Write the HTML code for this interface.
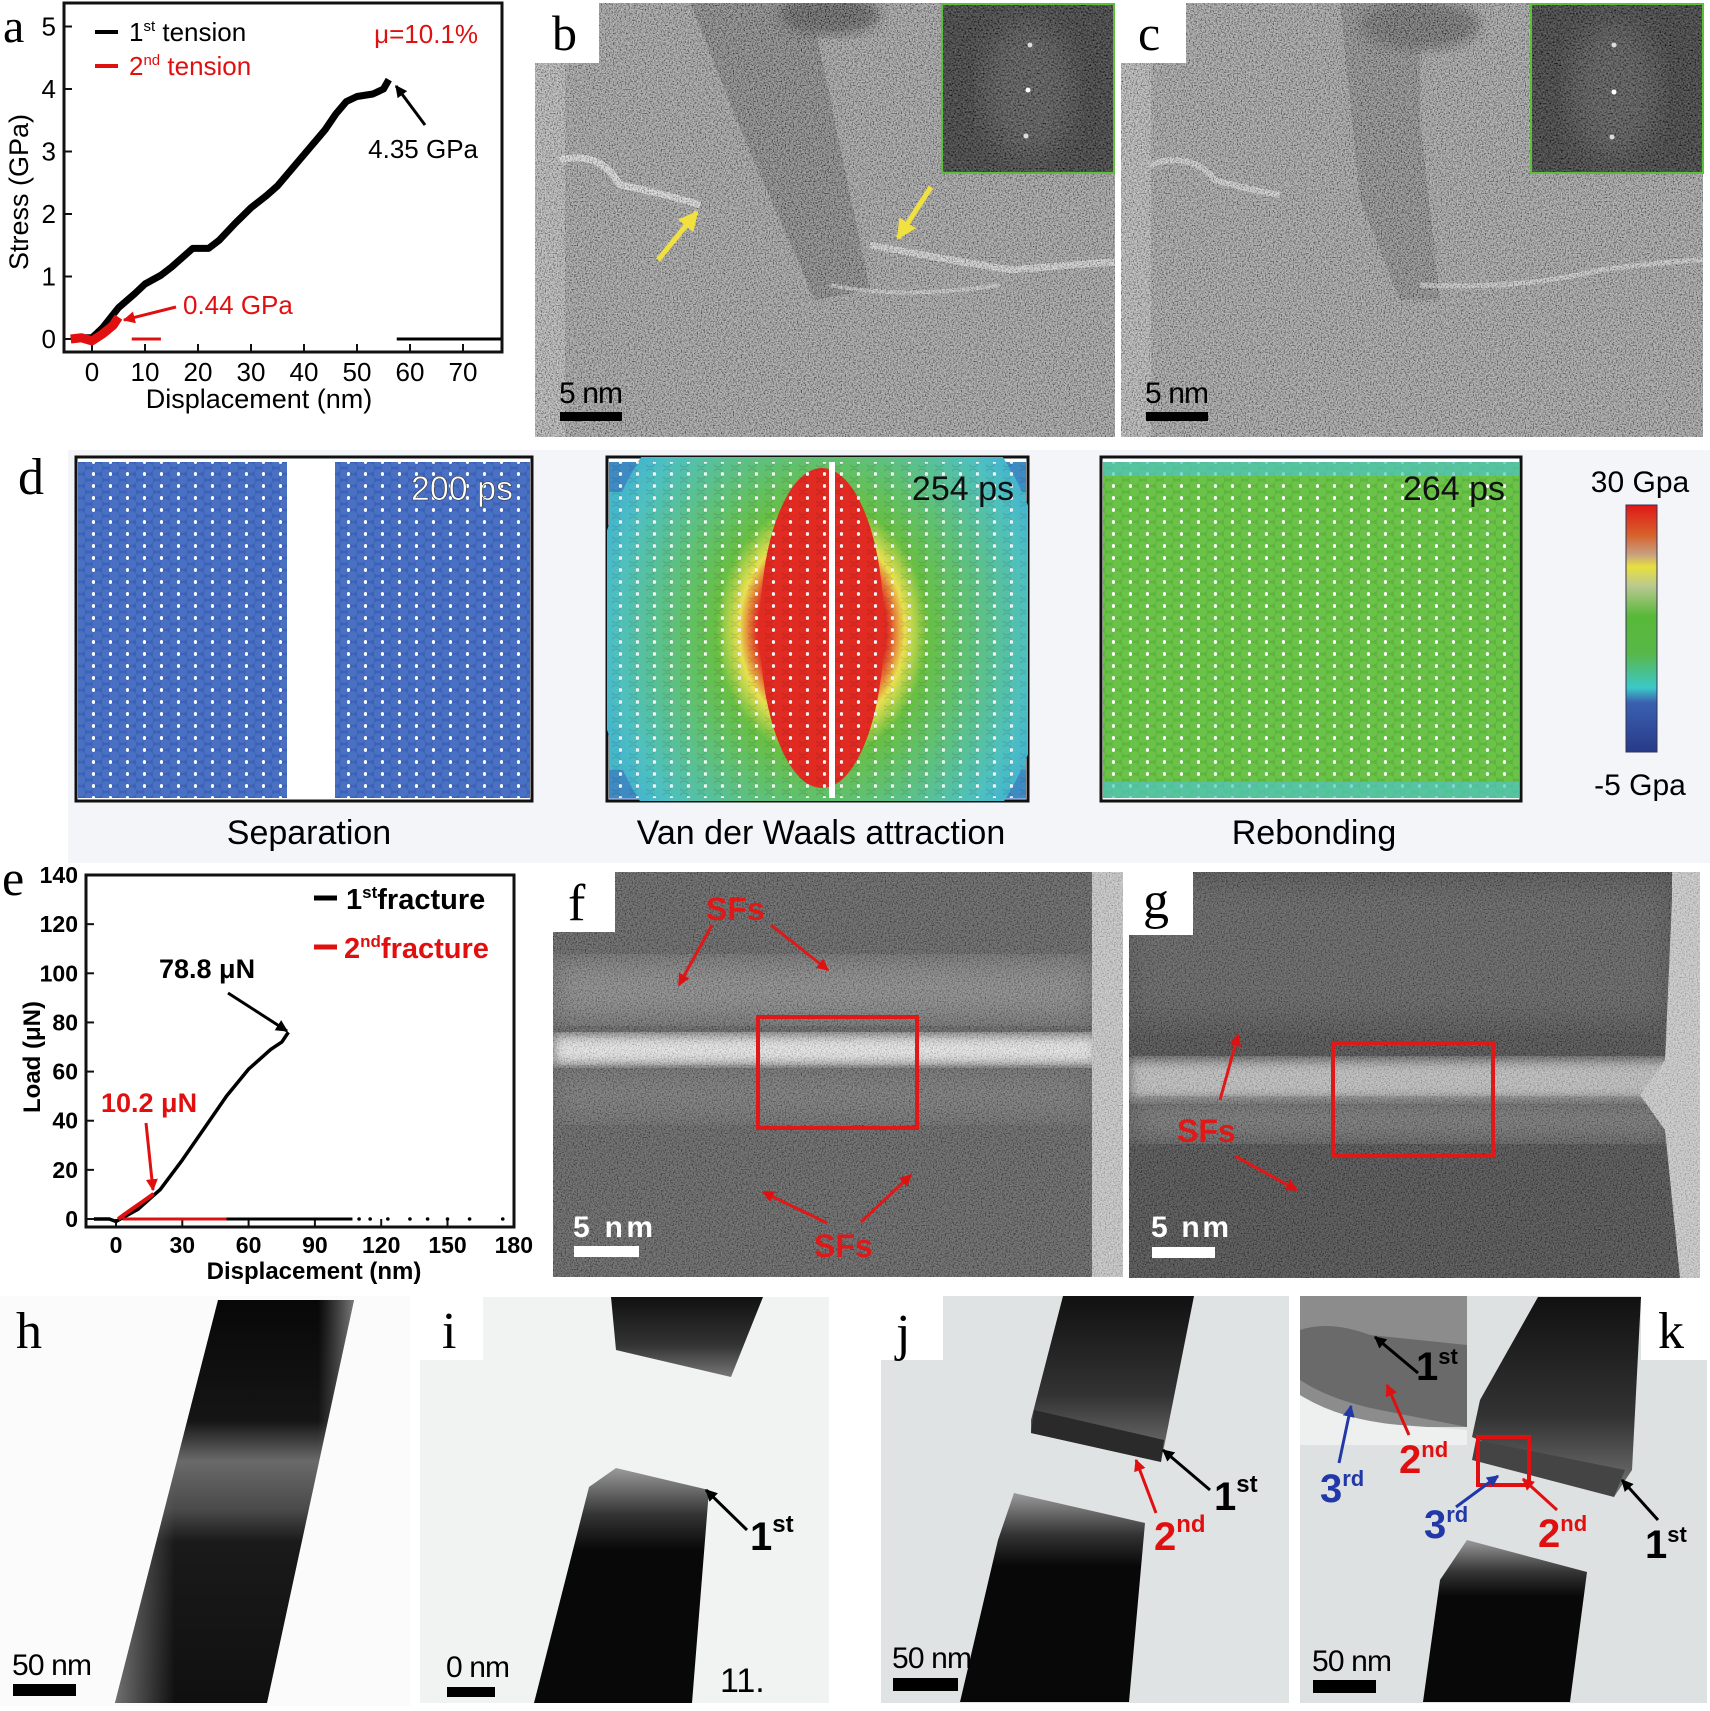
<!DOCTYPE html>
<html><head><meta charset="utf-8"><style>
html,body{margin:0;padding:0;background:#fff}
svg{display:block}
text{font-family:"Liberation Sans",sans-serif}
.ser{font-family:"Liberation Serif",serif}
</style></head><body>
<svg id="fig" width="1710" height="1711" viewBox="0 0 1710 1711" xmlns="http://www.w3.org/2000/svg">
<defs>
 <filter id="noise" x="0" y="0" width="100%" height="100%">
  <feTurbulence type="fractalNoise" baseFrequency="0.75" numOctaves="2" seed="3"/>
  <feColorMatrix type="matrix" values="2.4 0 0 0 -0.7  2.4 0 0 0 -0.7  2.4 0 0 0 -0.7  0 0 0 0 0.45"/>
 </filter>
 <filter id="noiseDark" x="0" y="0" width="100%" height="100%">
  <feTurbulence type="fractalNoise" baseFrequency="0.6" numOctaves="2" seed="7"/>
  <feColorMatrix type="matrix" values="1.2 0 0 0 -0.3  1.2 0 0 0 -0.3  1.2 0 0 0 -0.3  0 0 0 0 0.45"/>
 </filter>
 <filter id="blur6"><feGaussianBlur stdDeviation="6"/></filter>
 <filter id="blur12"><feGaussianBlur stdDeviation="14"/></filter>
 <pattern id="atomsBlue" width="17" height="12" patternUnits="userSpaceOnUse">
  <rect width="17" height="12" fill="#3c62b8"/>
  <circle cx="4" cy="6" r="5" fill="#4a70c4"/><circle cx="12.5" cy="0" r="5" fill="#4a70c4"/><circle cx="12.5" cy="12" r="5" fill="#4a70c4"/>
  <ellipse cx="8.5" cy="6" rx="1.6" ry="2" fill="#fff"/>
 </pattern>
 <pattern id="atomsGreen" width="17" height="12" patternUnits="userSpaceOnUse">
  <rect width="17" height="12" fill="#5cb53c"/>
  <circle cx="4" cy="6" r="5" fill="#6ac248"/><circle cx="12.5" cy="0" r="5" fill="#6ac248"/><circle cx="12.5" cy="12" r="5" fill="#6ac248"/>
  <ellipse cx="8.5" cy="6" rx="1.6" ry="2" fill="#fff"/>
 </pattern>
 <pattern id="dotsW" width="17" height="12" patternUnits="userSpaceOnUse">
  <ellipse cx="8.5" cy="6" rx="1.6" ry="2" fill="#fff"/>
  <circle cx="4" cy="6" r="5" fill="none" stroke="rgba(0,0,0,0.12)" stroke-width="1"/>
 </pattern>
 <radialGradient id="vdw" cx="0.5" cy="0.5" r="0.5">
  <stop offset="0" stop-color="#e02a22"/><stop offset="0.28" stop-color="#e02a22"/>
  <stop offset="0.36" stop-color="#e8e050"/><stop offset="0.46" stop-color="#68bf44"/>
  <stop offset="0.7" stop-color="#5cc088"/><stop offset="0.9" stop-color="#4ec0c0"/><stop offset="1" stop-color="#45b5cc"/>
 </radialGradient>
 <linearGradient id="cbar" x1="0" y1="0" x2="0" y2="1">
  <stop offset="0" stop-color="#e01818"/><stop offset="0.12" stop-color="#d8602a"/>
  <stop offset="0.2" stop-color="#c8a080"/><stop offset="0.25" stop-color="#e8e040"/>
  <stop offset="0.33" stop-color="#b8c890"/><stop offset="0.45" stop-color="#58b838"/>
  <stop offset="0.6" stop-color="#58b848"/><stop offset="0.74" stop-color="#3cc8c8"/>
  <stop offset="0.8" stop-color="#3a60b0"/><stop offset="1" stop-color="#283a88"/>
 </linearGradient>
 <linearGradient id="rodH" x1="0" y1="0" x2="0" y2="1">
  <stop offset="0" stop-color="#080808"/><stop offset="0.3" stop-color="#151515"/>
  <stop offset="0.4" stop-color="#6a6a6a"/><stop offset="0.52" stop-color="#4a4a4a"/>
  <stop offset="0.6" stop-color="#1a1a1a"/><stop offset="1" stop-color="#101010"/>
 </linearGradient>
 <linearGradient id="rodEdge" x1="0" y1="0" x2="1" y2="0">
  <stop offset="0" stop-color="#888" stop-opacity="0.8"/><stop offset="0.25" stop-color="#888" stop-opacity="0"/>
  <stop offset="0.85" stop-color="#888" stop-opacity="0"/><stop offset="1" stop-color="#aaa" stop-opacity="0.7"/>
 </linearGradient>
 <linearGradient id="topPiece" x1="0" y1="0" x2="0" y2="1">
  <stop offset="0" stop-color="#111"/><stop offset="0.6" stop-color="#333"/><stop offset="1" stop-color="#777"/>
 </linearGradient>
 <linearGradient id="botPiece" x1="0" y1="0" x2="0" y2="1">
  <stop offset="0" stop-color="#9a9a9a"/><stop offset="0.2" stop-color="#333"/><stop offset="0.35" stop-color="#080808"/><stop offset="1" stop-color="#080808"/>
 </linearGradient>
 <marker id="ahK" viewBox="0 0 10 10" refX="9" refY="5" markerWidth="4" markerHeight="4" orient="auto"><path d="M0,0 L10,5 L0,10 z" fill="#000"/></marker>
 <marker id="ahR" viewBox="0 0 10 10" refX="9" refY="5" markerWidth="4" markerHeight="4" orient="auto"><path d="M0,0 L10,5 L0,10 z" fill="#e01010"/></marker>
 <marker id="ahB" viewBox="0 0 10 10" refX="9" refY="5" markerWidth="4" markerHeight="4" orient="auto"><path d="M0,0 L10,5 L0,10 z" fill="#2238a8"/></marker>
 <marker id="ahY" viewBox="0 0 10 10" refX="9" refY="5" markerWidth="4" markerHeight="4" orient="auto"><path d="M0,0 L10,5 L0,10 z" fill="#f0e040"/></marker>
 <clipPath id="clipB"><rect x="535" y="3" width="580" height="434"/></clipPath>
 <clipPath id="clipC"><rect x="1121" y="3" width="582" height="434"/></clipPath>
 <clipPath id="clipF"><rect x="553" y="872" width="570" height="405"/></clipPath>
 <clipPath id="clipG"><rect x="1129" y="872" width="571" height="406"/></clipPath>
 <clipPath id="clipD2"><rect x="607" y="457" width="421" height="344"/></clipPath>
</defs>

<g id="panel-a"></g>

<!-- Panel b -->
<g clip-path="url(#clipB)">
 <rect x="535" y="3" width="580" height="434" fill="#8a8a8a"/>
 <rect x="535" y="3" width="30" height="434" fill="#a8a8a8"/>
 <polygon points="690,3 810,3 870,290 815,300 745,140" fill="#555" opacity="0.75"/>
 <ellipse cx="830" cy="15" rx="50" ry="20" fill="#333" filter="url(#blur6)"/>
 <path d="M560,160 Q600,150 620,185 Q670,195 700,205" stroke="#e8e8e8" stroke-width="7" fill="none" opacity="0.8"/>
 <path d="M870,245 Q950,260 1010,270 Q1070,265 1115,262" stroke="#e6e6e6" stroke-width="7" fill="none" opacity="0.7"/>
 <path d="M830,285 Q900,300 1000,285" stroke="#dcdcdc" stroke-width="4" fill="none" opacity="0.6"/>
 <rect x="535" y="3" width="580" height="434" filter="url(#noise)"/>
 <line x1="658" y1="260" x2="697" y2="212" stroke="#f0e040" stroke-width="5" marker-end="url(#ahY)"/>
 <line x1="931" y1="187" x2="898" y2="238" stroke="#f0e040" stroke-width="5" marker-end="url(#ahY)"/>
</g>
<rect x="535" y="0" width="64" height="63" fill="#fff"/>
<text class="ser" x="552" y="50" font-size="50">b</text>
<g>
 <rect x="942" y="4" width="172" height="169" fill="#141414" stroke="#5bbf3a" stroke-width="2"/>
 <ellipse cx="1028" cy="90" rx="45" ry="70" fill="#555" opacity="0.55" filter="url(#blur12)"/>
 <rect x="943" y="5" width="170" height="167" filter="url(#noiseDark)"/>
 <circle cx="1030" cy="45" r="2.5" fill="#ddd"/><circle cx="1028" cy="90" r="2.5" fill="#fff"/><circle cx="1026" cy="136" r="2.5" fill="#ddd"/>
</g>
<rect x="560" y="412" width="62" height="9" fill="#000"/>
<text x="559" y="403" font-size="30" textLength="64">5 nm</text>

<!-- Panel c -->
<g clip-path="url(#clipC)">
 <rect x="1121" y="3" width="582" height="434" fill="#8c8c8c"/>
 <rect x="1121" y="3" width="30" height="434" fill="#a8a8a8"/>
 <polygon points="1340,3 1420,3 1420,120 1440,300 1400,300 1360,200" fill="#5e5e5e" opacity="0.7"/>
 <ellipse cx="1420" cy="25" rx="60" ry="25" fill="#444" filter="url(#blur6)"/>
 <path d="M1150,165 Q1190,150 1215,180 Q1250,190 1280,195" stroke="#e0e0e0" stroke-width="6" fill="none" opacity="0.7"/>
 <path d="M1420,285 Q1520,290 1600,270 Q1660,262 1703,260" stroke="#e0e0e0" stroke-width="5" fill="none" opacity="0.6"/>
 <rect x="1121" y="3" width="582" height="434" filter="url(#noise)"/>
</g>
<rect x="1121" y="0" width="65" height="63" fill="#fff"/>
<text class="ser" x="1138" y="50" font-size="50">c</text>
<g>
 <rect x="1531" y="4" width="172" height="169" fill="#141414" stroke="#5bbf3a" stroke-width="2"/>
 <ellipse cx="1614" cy="90" rx="45" ry="70" fill="#555" opacity="0.55" filter="url(#blur12)"/>
 <rect x="1532" y="5" width="170" height="167" filter="url(#noiseDark)"/>
 <circle cx="1614" cy="45" r="2.5" fill="#ddd"/><circle cx="1614" cy="92" r="2.5" fill="#fff"/><circle cx="1612" cy="137" r="2.5" fill="#ddd"/>
</g>
<rect x="1146" y="412" width="62" height="9" fill="#000"/>
<text x="1145" y="403" font-size="30" textLength="64">5 nm</text>

<!-- Panel d -->
<rect x="68" y="450" width="1642" height="413" fill="#f4f5f8"/>
<text class="ser" x="18" y="494" font-size="52">d</text>
<g>
 <rect x="76" y="457" width="456" height="344" fill="#fff" stroke="#111" stroke-width="3"/>
 <rect x="78" y="462" width="209" height="336" fill="url(#atomsBlue)"/>
 <rect x="335" y="462" width="195" height="336" fill="url(#atomsBlue)"/>
 <text x="513" y="500" font-size="34" text-anchor="end" fill="#fff" stroke="#333" stroke-width="0.6">200 ps</text>
</g>
<g>
 <rect x="607" y="457" width="421" height="344" fill="#fff" stroke="#111" stroke-width="3"/>
 <g clip-path="url(#clipD2)">
  <rect x="609" y="462" width="417" height="336" fill="#45b8c8"/>
  <rect x="609" y="462" width="417" height="30" fill="#3a6ac0" opacity="0.6"/>
  <rect x="609" y="770" width="417" height="30" fill="#3a6ac0" opacity="0.6"/>
  <ellipse cx="822" cy="630" rx="230" ry="280" fill="url(#vdw)"/>
  <ellipse cx="822" cy="628" rx="62" ry="160" fill="#e02a22"/>
  <rect x="609" y="462" width="417" height="336" fill="url(#dotsW)"/>
  <rect x="829" y="462" width="6" height="336" fill="#fff"/>
 </g>
 <text x="1014" y="500" font-size="34" text-anchor="end" fill="#111">254 ps</text>
</g>
<g>
 <rect x="1101" y="457" width="420" height="344" fill="#fff" stroke="#111" stroke-width="3"/>
 <rect x="1103" y="462" width="416" height="336" fill="url(#atomsGreen)"/>
 <rect x="1103" y="462" width="416" height="14" fill="#4ec4c4" opacity="0.7"/>
 <rect x="1103" y="782" width="416" height="16" fill="#4ec4c4" opacity="0.7"/>
 <text x="1505" y="500" font-size="34" text-anchor="end" fill="#111">264 ps</text>
</g>
<rect x="1626" y="505" width="31" height="247" fill="url(#cbar)" stroke="#335" stroke-width="1"/>
<text x="1640" y="492" font-size="30" text-anchor="middle">30 Gpa</text>
<text x="1640" y="795" font-size="30" text-anchor="middle">-5 Gpa</text>
<text x="309" y="844" font-size="34" text-anchor="middle">Separation</text>
<text x="821" y="844" font-size="34" text-anchor="middle">Van der Waals attraction</text>
<text x="1314" y="844" font-size="34" text-anchor="middle">Rebonding</text>

<g id="panel-e"></g>

<!-- Panel f -->
<g clip-path="url(#clipF)">
 <rect x="553" y="872" width="570" height="405" fill="#4e4e4e"/>
 <rect x="553" y="960" width="540" height="60" fill="#7a7a7a" filter="url(#blur12)"/>
 <rect x="553" y="1035" width="545" height="30" fill="#e8e8e8" filter="url(#blur6)"/>
 <rect x="553" y="1070" width="540" height="50" fill="#666" filter="url(#blur12)"/>
 <rect x="1092" y="872" width="31" height="405" fill="#c4c4c4"/>
 <rect x="553" y="872" width="570" height="405" filter="url(#noise)" opacity="0.6"/>
</g>
<rect x="553" y="870" width="62" height="62" fill="#fff"/>
<text class="ser" x="568" y="920" font-size="52">f</text>
<rect x="758" y="1017" width="159" height="111" fill="none" stroke="#e01818" stroke-width="4"/>
<g font-weight="bold" fill="#e01818">
 <text x="706" y="920" font-size="32">SFs</text>
 <line x1="712" y1="925" x2="679" y2="985" stroke="#e01818" stroke-width="3" marker-end="url(#ahR)"/>
 <line x1="771" y1="925" x2="828" y2="970" stroke="#e01818" stroke-width="3" marker-end="url(#ahR)"/>
 <text x="814" y="1257" font-size="32">SFs</text>
 <line x1="827" y1="1223" x2="763" y2="1192" stroke="#e01818" stroke-width="3" marker-end="url(#ahR)"/>
 <line x1="861" y1="1222" x2="911" y2="1175" stroke="#e01818" stroke-width="3" marker-end="url(#ahR)"/>
</g>
<rect x="574" y="1246" width="65" height="11" fill="#fff"/>
<text x="573" y="1237" font-size="30" font-weight="bold" fill="#fff" textLength="80">5 nm</text>

<!-- Panel g -->
<g clip-path="url(#clipG)">
 <rect x="1129" y="872" width="571" height="406" fill="#3a3a3a"/>
 <rect x="1129" y="880" width="540" height="140" fill="#505050" filter="url(#blur12)"/>
 <rect x="1129" y="1060" width="545" height="40" fill="#b8b8b8" filter="url(#blur6)"/>
 <rect x="1129" y="1100" width="545" height="40" fill="#6a6a6a" filter="url(#blur12)"/>
 <path d="M1672,872 L1700,872 L1700,1278 L1680,1278 L1665,1130 L1640,1095 L1665,1060 L1672,900 z" fill="#c8c8c8"/>
 <rect x="1129" y="872" width="571" height="406" filter="url(#noise)" opacity="0.55"/>
</g>
<rect x="1129" y="870" width="64" height="65" fill="#fff"/>
<text class="ser" x="1143" y="918" font-size="52">g</text>
<rect x="1333" y="1043" width="160" height="113" fill="none" stroke="#e01818" stroke-width="4"/>
<g font-weight="bold" fill="#e01818">
 <text x="1177" y="1142" font-size="32">SFs</text>
 <line x1="1220" y1="1100" x2="1238" y2="1035" stroke="#e01818" stroke-width="3" marker-end="url(#ahR)"/>
 <line x1="1235" y1="1156" x2="1297" y2="1190" stroke="#e01818" stroke-width="3" marker-end="url(#ahR)"/>
</g>
<rect x="1152" y="1247" width="63" height="11" fill="#fff"/>
<text x="1151" y="1237" font-size="30" font-weight="bold" fill="#fff" textLength="78">5 nm</text>

<!-- Panel h -->
<g>
 <rect x="0" y="1296" width="410" height="410" fill="#fbfbfb"/>
 <polygon points="218,1300 354,1300 267,1703 115,1703" fill="url(#rodH)"/>
 <polygon points="218,1300 354,1300 267,1703 115,1703" fill="url(#rodEdge)"/>
 <text class="ser" x="16" y="1348" font-size="52">h</text>
 <rect x="13" y="1684" width="63" height="12" fill="#000"/>
 <text x="12" y="1675" font-size="30" textLength="80">50 nm</text>
</g>

<!-- Panel i -->
<g>
 <rect x="420" y="1297" width="409" height="406" fill="#f1f3f3"/>
 <rect x="420" y="1297" width="63" height="63" fill="#fff"/>
 <polygon points="611,1297 763,1297 731,1377 616,1350" fill="url(#topPiece)"/>
 <polygon points="616,1468 709,1490 692,1703 534,1703 589,1487" fill="url(#botPiece)"/>
 <text class="ser" x="442" y="1348" font-size="52">i</text>
 <line x1="747" y1="1530" x2="706" y2="1490" stroke="#000" stroke-width="3" marker-end="url(#ahK)"/>
 <text x="750" y="1550" font-size="40" font-weight="bold">1<tspan font-size="24" dy="-18">st</tspan></text>
 <rect x="447" y="1687" width="48" height="10" fill="#000"/>
 <text x="446" y="1677" font-size="30" textLength="64">0 nm</text>
 <text x="720" y="1692" font-size="34">11.</text>
</g>

<!-- Panel j -->
<g>
 <rect x="881" y="1296" width="408" height="407" fill="#dfe3e3"/>
 <rect x="881" y="1296" width="62" height="64" fill="#fff"/>
 <polygon points="1063,1296 1194,1296 1161,1462 1031,1433 1031,1420" fill="url(#topPiece)"/>
 <polygon points="1034,1410 1164,1440 1161,1462 1031,1433" fill="#2a2a2a"/>
 <polygon points="1014,1493 1145,1523 1129,1702 960,1702 998,1540" fill="url(#botPiece)"/>
 <text class="ser" x="896" y="1350" font-size="52">j</text>
 <line x1="1210" y1="1490" x2="1163" y2="1450" stroke="#000" stroke-width="3" marker-end="url(#ahK)"/>
 <text x="1214" y="1510" font-size="40" font-weight="bold">1<tspan font-size="24" dy="-18">st</tspan></text>
 <line x1="1156" y1="1513" x2="1136" y2="1460" stroke="#e01010" stroke-width="3" marker-end="url(#ahR)"/>
 <text x="1154" y="1550" font-size="40" font-weight="bold" fill="#e01010">2<tspan font-size="24" dy="-18">nd</tspan></text>
 <rect x="893" y="1678" width="65" height="13" fill="#000"/>
 <text x="892" y="1668" font-size="30" textLength="80">50 nm</text>
</g>

<!-- Panel k -->
<g>
 <rect x="1300" y="1296" width="407" height="407" fill="#dde1e1"/>
 <polygon points="1538,1297 1641,1297 1632,1470 1614,1497 1472,1437 1480,1400" fill="url(#topPiece)"/>
 <polygon points="1476,1440 1625,1470 1614,1497 1472,1460" fill="#444"/>
 <polygon points="1467,1540 1587,1572 1570,1702 1423,1702 1440,1580" fill="url(#botPiece)"/>
 <rect x="1641" y="1296" width="66" height="64" fill="#fff"/>
 <text class="ser" x="1658" y="1348" font-size="52">k</text>
 <g>
  <rect x="1300" y="1296" width="167" height="131" fill="#8c8c8c"/>
  <path d="M1300,1330 Q1330,1320 1370,1335 L1467,1345 L1467,1427 L1380,1410 Q1330,1400 1300,1380 z" fill="#6a6a6a"/>
  <path d="M1300,1395 Q1340,1420 1400,1425 L1467,1430 L1467,1445 L1300,1445 z" fill="#eef0f0"/>
 </g>
 <rect x="1478" y="1437" width="51" height="48" fill="none" stroke="#e01010" stroke-width="4"/>
 <line x1="1418" y1="1373" x2="1375" y2="1337" stroke="#000" stroke-width="3" marker-end="url(#ahK)"/>
 <text x="1416" y="1380" font-size="40" font-weight="bold">1<tspan font-size="22" dy="-16">st</tspan></text>
 <line x1="1409" y1="1435" x2="1387" y2="1385" stroke="#e01010" stroke-width="3" marker-end="url(#ahR)"/>
 <text x="1399" y="1473" font-size="40" font-weight="bold" fill="#e01010">2<tspan font-size="22" dy="-16">nd</tspan></text>
 <line x1="1339" y1="1463" x2="1351" y2="1406" stroke="#2238a8" stroke-width="3" marker-end="url(#ahB)"/>
 <text x="1320" y="1502" font-size="40" font-weight="bold" fill="#2238a8">3<tspan font-size="22" dy="-16">rd</tspan></text>
 <line x1="1456" y1="1507" x2="1498" y2="1476" stroke="#2238a8" stroke-width="3" marker-end="url(#ahB)"/>
 <text x="1424" y="1538" font-size="40" font-weight="bold" fill="#2238a8">3<tspan font-size="22" dy="-16">rd</tspan></text>
 <line x1="1557" y1="1510" x2="1523" y2="1479" stroke="#e01010" stroke-width="3" marker-end="url(#ahR)"/>
 <text x="1538" y="1547" font-size="40" font-weight="bold" fill="#e01010">2<tspan font-size="22" dy="-16">nd</tspan></text>
 <line x1="1658" y1="1520" x2="1622" y2="1480" stroke="#000" stroke-width="3" marker-end="url(#ahK)"/>
 <text x="1645" y="1558" font-size="40" font-weight="bold">1<tspan font-size="22" dy="-16">st</tspan></text>
 <rect x="1313" y="1680" width="63" height="13" fill="#000"/>
 <text x="1312" y="1671" font-size="30" textLength="80">50 nm</text>
</g>
</svg>

<script>
// ---------- Panel a data ----------
const aTension1X = [-4, -2, 0, 2, 5, 8, 10, 13, 15, 17, 19, 22, 24, 27, 30, 33, 35, 38, 41, 44, 46, 48, 50, 53, 55, 56];
const aTension1Y = [0, 0.02, 0.02, 0.18, 0.5, 0.72, 0.88, 1.02, 1.15, 1.3, 1.45, 1.45, 1.58, 1.85, 2.1, 2.3, 2.45, 2.75, 3.05, 3.35, 3.6, 3.8, 3.88, 3.92, 4.0, 4.15];
const aTension2X = [-4, -2, 0, 2, 4, 5];
const aTension2Y = [0, 0.02, -0.03, 0.08, 0.22, 0.35];
const aXTicks = [0, 10, 20, 30, 40, 50, 60, 70];
const aYTicks = [0, 1, 2, 3, 4, 5];

// ---------- Panel e data ----------
const eFracture1X = [-10, -3, 0, 3, 6, 10, 15, 20, 30, 40, 50, 60, 65, 70, 75, 78];
const eFracture1Y = [0, 0, -1, 0.5, 2, 4, 8, 12, 24, 37, 50, 61, 65, 69, 72, 76];
const eFracture2X = [1, 4, 8, 12, 17];
const eFracture2Y = [0, 2, 4.5, 7, 10.2];
const eXTicks = [0, 30, 60, 90, 120, 150, 180];
const eYTicks = [0, 20, 40, 60, 80, 100, 120, 140];
const eDotsX = [110, 115, 123, 133, 141, 150, 160, 175];

const NS = "http://www.w3.org/2000/svg";
function mk(parent, tag, attrs, text) {
  const el = document.createElementNS(NS, tag);
  for (const k in attrs) el.setAttribute(k, attrs[k]);
  if (text !== undefined) el.textContent = text;
  parent.appendChild(el);
  return el;
}

(function () {
  const g = document.getElementById('panel-a');
  const x = v => 92 + v * 5.3;
  const y = v => 339 - v * 62.5;
  const box = mk(g, 'rect', {x: 64, y: 3, width: 438, height: 349, fill: '#fff', stroke: '#111', 'stroke-width': 3});
  
  
  aXTicks.forEach(t => {
    mk(g, 'line', {x1: x(t), x2: x(t), y1: 352, y2: 344, stroke: '#111', 'stroke-width': 2});
    const tl = mk(g, 'text', {x: x(t), y: 381, 'font-size': 26, 'text-anchor': 'middle'}, String(t));
    
    
  });
  aYTicks.forEach(t => {
    mk(g, 'line', {x1: 64, x2: 72, y1: y(t), y2: y(t), stroke: '#111', 'stroke-width': 2});
    const tl = mk(g, 'text', {x: 56, y: y(t) + 9, 'font-size': 26, 'text-anchor': 'end'}, String(t));
    
    
  });
  const l1 = mk(g, 'polyline', {points: aTension1X.map((v, i) => x(v) + ',' + y(aTension1Y[i])).join(' '), fill: 'none', stroke: '#000', 'stroke-width': 7, 'stroke-linejoin': 'round'});
  
  
  const l2 = mk(g, 'polyline', {points: aTension2X.map((v, i) => x(v) + ',' + y(aTension2Y[i])).join(' '), fill: 'none', stroke: '#e01010', 'stroke-width': 9, 'stroke-linejoin': 'round'});
  
  
  mk(g, 'line', {x1: x(7.5), x2: x(13), y1: y(0), y2: y(0), stroke: '#e01010', 'stroke-width': 3});
  mk(g, 'line', {x1: x(57.5), x2: 501, y1: y(0), y2: y(0), stroke: '#000', 'stroke-width': 3});
  mk(g, 'line', {x1: 95, x2: 118, y1: 32, y2: 32, stroke: '#000', 'stroke-width': 4});
  const t1 = mk(g, 'text', {x: 129, y: 41, 'font-size': 26});
  t1.innerHTML = '1<tspan font-size="15" dy="-10">st</tspan><tspan dy="10"> tension</tspan>';
  
  
  mk(g, 'line', {x1: 95, x2: 118, y1: 66, y2: 66, stroke: '#e01010', 'stroke-width': 4});
  const t2 = mk(g, 'text', {x: 129, y: 75, 'font-size': 26, fill: '#e01010'});
  t2.innerHTML = '2<tspan font-size="15" dy="-10">nd</tspan><tspan dy="10"> tension</tspan>';
  
  
  const mu = mk(g, 'text', {x: 478, y: 43, 'font-size': 26, fill: '#e01010', 'text-anchor': 'end'}, 'μ=10.1%');
  
  
  const pk = mk(g, 'text', {x: 478, y: 158, 'font-size': 26, 'text-anchor': 'end'}, '4.35 GPa');
  
  
  mk(g, 'line', {x1: 425, y1: 125, x2: 396, y2: 86, stroke: '#000', 'stroke-width': 3, 'marker-end': 'url(#ahK)'});
  const p2 = mk(g, 'text', {x: 183, y: 314, 'font-size': 26, fill: '#e01010'}, '0.44 GPa');
  
  
  mk(g, 'line', {x1: 176, y1: 307, x2: 124, y2: 320, stroke: '#e01010', 'stroke-width': 3, 'marker-end': 'url(#ahR)'});
  const xt = mk(g, 'text', {x: 259, y: 408, 'font-size': 27, 'text-anchor': 'middle'}, 'Displacement (nm)');
  
  
  const yt = mk(g, 'text', {x: 0, y: 0, 'font-size': 27, 'text-anchor': 'middle', transform: 'translate(28,192) rotate(-90)'}, 'Stress (GPa)');
  
  
  const la = mk(g, 'text', {x: 3, y: 42, 'font-size': 48, class: 'ser'}, 'a');
  
  
})();

(function () {
  const g = document.getElementById('panel-e');
  const x = v => 116 + v * 2.21;
  const y = v => 1219 - v * 2.457;
  const box = mk(g, 'rect', {x: 86, y: 875, width: 428, height: 352, fill: '#fff', stroke: '#111', 'stroke-width': 3});
  
  
  eXTicks.forEach(t => {
    mk(g, 'line', {x1: x(t), x2: x(t), y1: 1227, y2: 1219, stroke: '#111', 'stroke-width': 2});
    const tl = mk(g, 'text', {x: x(t), y: 1253, 'font-size': 23, 'font-weight': 'bold', 'text-anchor': 'middle'}, String(t));
    
    
  });
  eYTicks.forEach(t => {
    mk(g, 'line', {x1: 86, x2: 94, y1: y(t), y2: y(t), stroke: '#111', 'stroke-width': 2});
    const tl = mk(g, 'text', {x: 78, y: y(t) + 8, 'font-size': 23, 'font-weight': 'bold', 'text-anchor': 'end'}, String(t));
    
    
  });
  mk(g, 'line', {x1: x(3), x2: x(107), y1: y(0), y2: y(0), stroke: '#000', 'stroke-width': 3});
  eDotsX.forEach(v => {
    const d = mk(g, 'circle', {cx: x(v), cy: y(0), r: 1.8, fill: '#000'});
    
    
  });
  const l1 = mk(g, 'polyline', {points: eFracture1X.map((v, i) => x(v) + ',' + y(eFracture1Y[i])).join(' '), fill: 'none', stroke: '#000', 'stroke-width': 3.5, 'stroke-linejoin': 'round'});
  
  
  mk(g, 'line', {x1: x(3), x2: x(50), y1: y(0), y2: y(0), stroke: '#e01010', 'stroke-width': 3});
  const l2 = mk(g, 'polyline', {points: eFracture2X.map((v, i) => x(v) + ',' + y(eFracture2Y[i])).join(' '), fill: 'none', stroke: '#e01010', 'stroke-width': 4, 'stroke-linejoin': 'round'});
  
  
  mk(g, 'line', {x1: 314, x2: 337, y1: 898, y2: 898, stroke: '#000', 'stroke-width': 5});
  const t1 = mk(g, 'text', {x: 346, y: 909, 'font-size': 29, 'font-weight': 'bold'});
  t1.innerHTML = '1<tspan font-size="17" dy="-11">st</tspan><tspan dy="11">fracture</tspan>';
  
  
  mk(g, 'line', {x1: 314, x2: 337, y1: 947, y2: 947, stroke: '#e01010', 'stroke-width': 5});
  const t2 = mk(g, 'text', {x: 344, y: 958, 'font-size': 29, 'font-weight': 'bold', fill: '#e01010'});
  t2.innerHTML = '2<tspan font-size="17" dy="-11">nd</tspan><tspan dy="11">fracture</tspan>';
  
  
  const pk = mk(g, 'text', {x: 159, y: 978, 'font-size': 27, 'font-weight': 'bold'}, '78.8 μN');
  
  
  mk(g, 'line', {x1: 228, y1: 993, x2: 287, y2: 1031, stroke: '#000', 'stroke-width': 3, 'marker-end': 'url(#ahK)'});
  const p2 = mk(g, 'text', {x: 101, y: 1112, 'font-size': 27, 'font-weight': 'bold', fill: '#e01010'}, '10.2 μN');
  
  
  mk(g, 'line', {x1: 146, y1: 1123, x2: 153, y2: 1190, stroke: '#e01010', 'stroke-width': 3, 'marker-end': 'url(#ahR)'});
  const xt = mk(g, 'text', {x: 314, y: 1279, 'font-size': 24, 'font-weight': 'bold', 'text-anchor': 'middle'}, 'Displacement (nm)');
  
  
  const yt = mk(g, 'text', {x: 0, y: 0, 'font-size': 24, 'font-weight': 'bold', 'text-anchor': 'middle', transform: 'translate(40,1057) rotate(-90)'}, 'Load (μN)');
  
  
  const le = mk(g, 'text', {x: 2, y: 895, 'font-size': 50, class: 'ser'}, 'e');
  
  
})();
</script>
</body></html>
